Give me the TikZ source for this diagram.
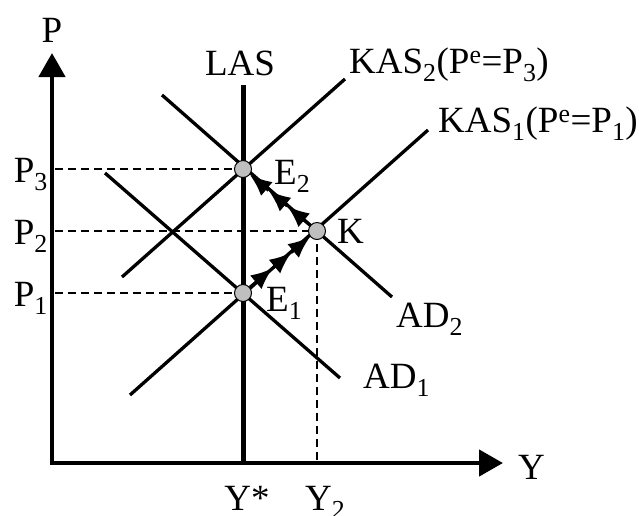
\documentclass[tikz,border=0pt]{standalone}
\usepackage{fontspec}
\setmainfont{Liberation Serif}
\usetikzlibrary{arrows.meta}

\tikzstyle{every node}=[inner sep=0pt, font={\fontsize{37}{40}\selectfont}]
\tikzstyle{axis}=[line width=4.5pt, -{Triangle[length=24pt,width=26pt]}]
\tikzstyle{curve}=[line width=3.3pt]
\tikzstyle{guide}=[line width=1.5pt, dash pattern=on 8pt off 5pt]
\tikzstyle{eqpoint}=[circle, draw=black, line width=1pt, fill=black!25, minimum size=17pt]
\tikzstyle{adjust}=[line width=3pt, -{Latex[length=22pt,width=18pt]}]

\begin{document}
\begin{tikzpicture}[x=1pt,y=-1pt]
    \useasboundingbox (0,0) rectangle (639,515);
    \coordinate (O) at (52,463);

    % guides
    \draw [guide] (55,169) -- (243,169);
    \draw [guide] (55,231) -- (317,231);
    \draw [guide] (55,293) -- (243,293);
    \draw [guide] (317,231) -- (317,461);

    % supply and demand
    \draw [curve] (122,277) -- (345,79);
    \draw [curve] (130,395) -- (428,130);
    \draw [curve] (105,173) -- (340,378);
    \draw [curve] (162,95) -- (392,297);
    \draw [line width=5pt] (243,85) -- (243,463);

    % axes
    \draw [axis] (O) -- (52,53);
    \draw [axis] (49.75,463) -- (503,463);

    \node [eqpoint] (E1) at (243,293) {};
    \node [eqpoint] (K) at (317,231) {};
    \node [eqpoint] (E2) at (243,169) {};
    \path (E1) -- (K) coordinate [pos=0.38] (a1) coordinate [pos=0.69] (a2);
    \path (K) -- (E2) coordinate [pos=0.38] (b1) coordinate [pos=0.69] (b2);
    \draw [adjust] (E1) -- (a1);
    \draw [adjust] (a1) -- (a2);
    \draw [adjust] (a2) -- (K);
    \draw [adjust] (K) -- (b1);
    \draw [adjust] (b1) -- (b2);
    \draw [adjust] (b2) -- (E2);

    % labels
    \node [anchor=base] (lP) at (52,42) {P};
    \node [anchor=base west] (lY) at (518,479) {Y};
    \node [anchor=base] (lYs) at (247,510) {Y*};
    \node [anchor=base west] (lY2) at (305,510) {Y\textsubscript{2}};
    \node [anchor=base east] (lP3) at (48,182) {P\textsubscript{3}};
    \node [anchor=base east] (lP2) at (48,244) {P\textsubscript{2}};
    \node [anchor=base east] (lP1) at (48,306) {P\textsubscript{1}};
    \node [anchor=base] (lLAS) at (240,75) {LAS};
    \node [anchor=base west] (lKAS2) at (349,73) {KAS\textsubscript{2}(P\textsuperscript{e}=P\textsubscript{3})};
    \node [anchor=base west] (lKAS1) at (438,132) {KAS\textsubscript{1}(P\textsuperscript{e}=P\textsubscript{1})};
    \node [anchor=base west] (lAD1) at (363,388) {AD\textsubscript{1}};
    \node [anchor=base west] (lAD2) at (396,327) {AD\textsubscript{2}};
    \node [anchor=base west] (lE1) at (266,311) {E\textsubscript{1}};
    \node [anchor=base west] (lE2) at (274,184) {E\textsubscript{2}};
    \node [anchor=base west] (lK) at (337,243) {K};
\end{tikzpicture}
\end{document}
